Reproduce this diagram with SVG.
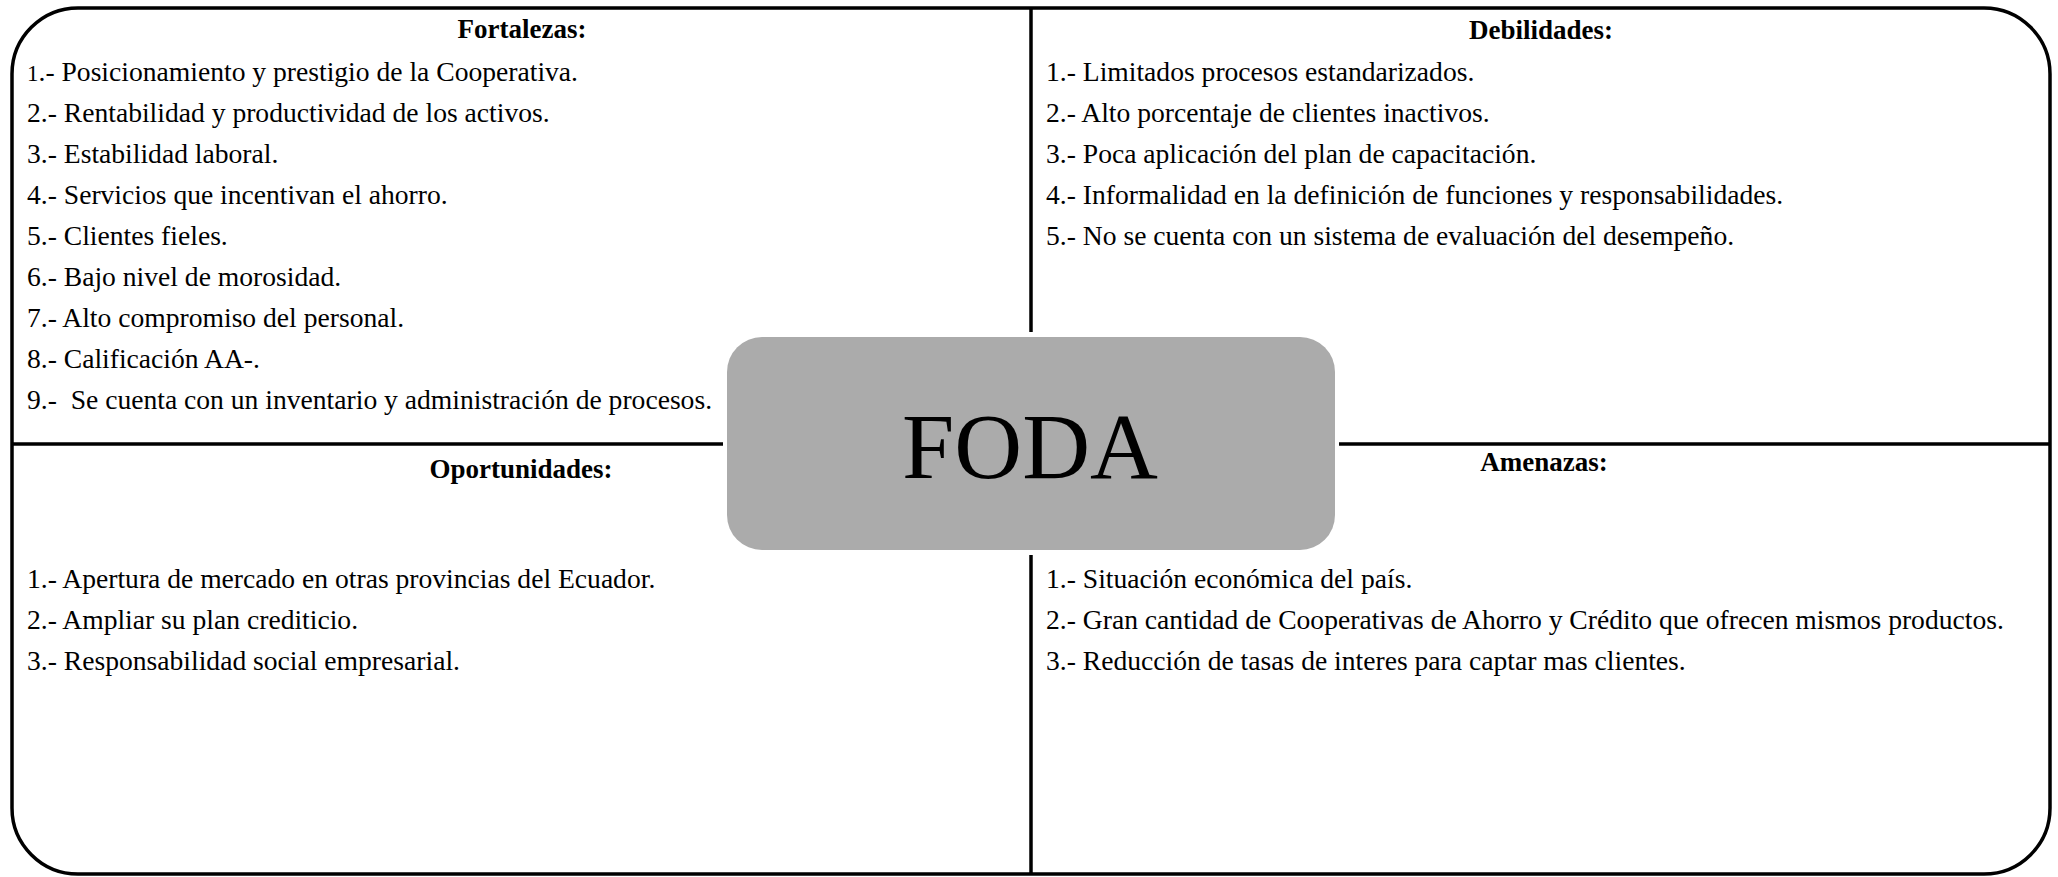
<svg xmlns="http://www.w3.org/2000/svg" width="2058" height="877" viewBox="0 0 2058 877">
<style>
text{font-family:"Liberation Serif","Times New Roman",serif;fill:#000;white-space:pre}
.t{font-size:27.6px}
.h{font-size:27px;font-weight:bold;text-anchor:middle}
.ln{stroke:#000;stroke-width:3.5;fill:none}
</style>
<rect width="2058" height="877" fill="#fff"/>
<g id="frame">
<rect x="12" y="8" width="2038" height="866" rx="66" ry="66" fill="#fff" stroke="#000" stroke-width="3.5"/>
</g>
<g id="connectors">
<line class="ln" x1="1031" y1="8" x2="1031" y2="874"/>
<line class="ln" x1="12" y1="444" x2="2050" y2="444"/>
</g>
<g id="fortalezas">
<text class="h" x="522" y="38">Fortalezas:</text>
<text class="t" x="27" y="81"><tspan font-size="23">1</tspan>.- Posicionamiento y prestigio de la Cooperativa.</text>
<text class="t" x="27" y="122">2.- Rentabilidad y productividad de los activos.</text>
<text class="t" x="27" y="163">3.- Estabilidad laboral.</text>
<text class="t" x="27" y="204">4.- Servicios que incentivan el ahorro.</text>
<text class="t" x="27" y="245">5.- Clientes fieles.</text>
<text class="t" x="27" y="286">6.- Bajo nivel de morosidad.</text>
<text class="t" x="27" y="327">7.- Alto compromiso del personal.</text>
<text class="t" x="27" y="368">8.- Calificación AA-.</text>
<text class="t" x="27" y="409">9.-  Se cuenta con un inventario y administración de procesos.</text>
</g>
<g id="debilidades">
<text class="h" x="1541" y="39">Debilidades:</text>
<text class="t" x="1046" y="81">1.- Limitados procesos estandarizados.</text>
<text class="t" x="1046" y="122">2.- Alto porcentaje de clientes inactivos.</text>
<text class="t" x="1046" y="163">3.- Poca aplicación del plan de capacitación.</text>
<text class="t" x="1046" y="204">4.- Informalidad en la definición de funciones y responsabilidades.</text>
<text class="t" x="1046" y="245">5.- No se cuenta con un sistema de evaluación del desempeño.</text>
</g>
<g id="oportunidades">
<text class="h" x="521" y="478">Oportunidades:</text>
<text class="t" x="27" y="588">1.- Apertura de mercado en otras provincias del Ecuador.</text>
<text class="t" x="27" y="629">2.- Ampliar su plan crediticio.</text>
<text class="t" x="27" y="670">3.- Responsabilidad social empresarial.</text>
</g>
<g id="amenazas">
<text class="h" x="1544" y="471">Amenazas:</text>
<text class="t" x="1046" y="588">1.- Situación económica del país.</text>
<text class="t" x="1046" y="629">2.- Gran cantidad de Cooperativas de Ahorro y Crédito que ofrecen mismos productos.</text>
<text class="t" x="1046" y="670">3.- Reducción de tasas de interes para captar mas clientes.</text>
</g>
<g id="foda">
<rect x="723" y="332" width="616" height="223" rx="40" ry="40" fill="#fff"/>
<rect x="727" y="337" width="608" height="213" rx="35" ry="35" fill="#ababab"/>
<text x="1030" y="478" font-size="94" text-anchor="middle">FODA</text>
</g>
</svg>
